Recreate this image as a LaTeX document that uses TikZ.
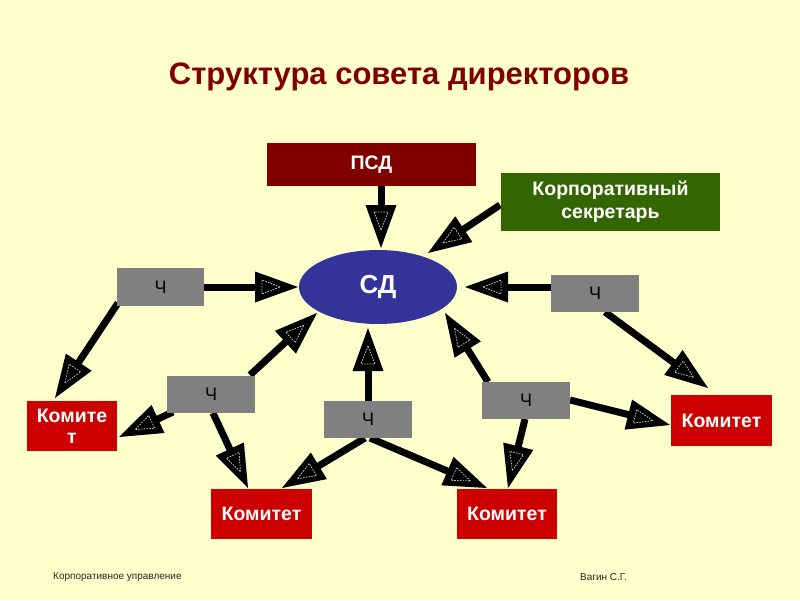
\documentclass[tikz,border=0pt]{standalone}
\usepackage{fontspec}
\setmainfont{Liberation Sans}
\usetikzlibrary{calc,arrows.meta,shapes.geometric}
\definecolor{bgyellow}{HTML}{FFFFCC}
\definecolor{titlered}{HTML}{800000}
\definecolor{psdred}{HTML}{800000}
\definecolor{secgreen}{HTML}{336600}
\definecolor{sdblue}{HTML}{333399}
\definecolor{chgray}{HTML}{808080}
\definecolor{komred}{HTML}{CC0000}
\pgfdeclarelayer{backlayer}
\pgfdeclarelayer{arrowlayer}
\pgfsetlayers{backlayer,arrowlayer,main}
\pgfdeclarearrow{
  name = DotTri,
  setup code = {
    \pgfarrowssettipend{0pt}
    \pgfarrowssetlineend{-30pt}
    \pgfarrowssetbackend{-43pt}
    \pgfarrowssetvisualbackend{-43pt}
    \pgfarrowshullpoint{0pt}{0pt}
    \pgfarrowshullpoint{-43pt}{15.5pt}
    \pgfarrowshullpoint{-43pt}{-15.5pt}
  },
  drawing code = {
    \pgfsetdash{}{0pt}
    \pgfsetfillcolor{black}
    \pgfpathmoveto{\pgfqpoint{0pt}{0pt}}
    \pgfpathlineto{\pgfqpoint{-43pt}{15.5pt}}
    \pgfpathlineto{\pgfqpoint{-43pt}{-15.5pt}}
    \pgfpathclose
    \pgfusepathqfill
    \pgfsetlinewidth{0.8pt}
    \pgfsetstrokecolor{white!75!black}
    \pgfsetdash{{1.6pt}{1.2pt}}{0pt}
    \pgfpathmoveto{\pgfqpoint{-18pt}{0pt}}
    \pgfpathlineto{\pgfqpoint{-36pt}{7pt}}
    \pgfpathlineto{\pgfqpoint{-36pt}{-7pt}}
    \pgfpathclose
    \pgfusepathqstroke
  }
}
\begin{document}
\begin{tikzpicture}[x=1pt,y=-1pt,
  box/.style={rectangle, inner sep=0pt, text=white, align=center,
    font=\bfseries\fontsize{19.5}{21}\selectfont},
  chbox/.style={rectangle, inner sep=0pt, fill=chgray, text=black,
    minimum width=88pt, minimum height=37pt, font=\fontsize{18}{20}\selectfont},
  kombox/.style={box, fill=komred, minimum width=101pt, minimum height=50pt},
  arr/.style={line width=7pt, -{DotTri}},
  foot/.style={anchor=west, inner sep=0pt, text=black!85, font=\fontsize{10}{11}\selectfont}
]
\begin{pgfonlayer}{backlayer}
\fill[bgyellow] (0,0) rectangle (800,600);
\end{pgfonlayer}
\useasboundingbox (0,0) rectangle (800,600);

\node[text=titlered, font=\bfseries\fontsize{31}{36}\selectfont] (title) at (399,77) {Структура совета директоров};

\node[box, fill=psdred, minimum width=209pt, minimum height=43pt] (psd) at (371.5,164.5) {ПСД};
\node[box, fill=secgreen, minimum width=219pt, minimum height=58pt,
  font=\bfseries\fontsize{19.5}{23}\selectfont] (sec) at (610.5,202) {Корпоративный\\секретарь};
\node[ellipse, inner sep=0pt, fill=sdblue, text=white, minimum width=158pt, minimum height=74pt,
  font=\bfseries\fontsize{26}{28}\selectfont] (sd) at (378,287) {СД};

\node[chbox, minimum width=87pt, minimum height=38pt] (ch1) at (160.5,287) {Ч};
\node[chbox] (ch2) at (211,394.5) {Ч};
\node[chbox] (ch3) at (368,419.5) {Ч};
\node[chbox] (ch4) at (526,400.5) {Ч};
\node[chbox] (ch5) at (595,293.5) {Ч};

\node[kombox, minimum width=90pt, font=\bfseries\fontsize{19.5}{21}\selectfont] (k1) at (72,426) {Комите\\т};
\node[kombox] (k2) at (261.5,514) {Комитет};
\node[kombox, minimum width=100pt] (k3) at (507,514) {Комитет};
\node[kombox, minimum height=51pt] (k4) at (721.5,420.5) {Комитет};

\node[foot] (f1) at (53,577) {Корпоративное управление};
\node[foot] (f2) at (580,577) {Вагин С.Г.};

\begin{pgfonlayer}{arrowlayer}
\draw[arr] ($(psd)+(9.5,21.5)$) -- ($(sd)+(3,-39)$);
\draw[arr] ($(sec)+(-110.5,3)$) -- ($(sd)+(50,-34)$);
\draw[arr] ($(ch1)+(43.5,0)$) -- ($(sd)+(-80,0)$);
\draw[arr] ($(ch5)+(-44,-6.5)$) -- ($(sd)+(87,0)$);
\draw[arr] ($(ch1)+(-42.5,16)$) -- ($(k1)+(-17,-28)$);
\draw[arr] ($(ch2)+(39,-19.5)$) -- ($(sd)+(-61,26)$);
\draw[arr] ($(ch2)+(-38,17.5)$) -- ($(k1)+(47,11)$);
\draw[arr] ($(ch2)+(2,18.5)$) -- ($(k2)+(-13.5,-26)$);
\draw[arr] ($(ch3)+(0,-18.5)$) -- ($(sd)+(-10,41)$);
\draw[arr] ($(ch3)+(-3,18.5)$) -- ($(k2)+(20.5,-26)$);
\draw[arr] ($(ch3)+(2,18.5)$) -- ($(k3)+(-20,-26)$);
\draw[arr] ($(ch4)+(-38,-18.5)$) -- ($(sd)+(67,26)$);
\draw[arr] ($(ch4)+(-1,18.5)$) -- ($(k3)+(1,-26)$);
\draw[arr] ($(ch4)+(44,-0.5)$) -- ($(k4)+(-51.5,4.5)$);
\draw[arr] ($(ch5)+(10,18.5)$) -- ($(k4)+(-13.5,-32.5)$);
\end{pgfonlayer}
\end{tikzpicture}
\end{document}
